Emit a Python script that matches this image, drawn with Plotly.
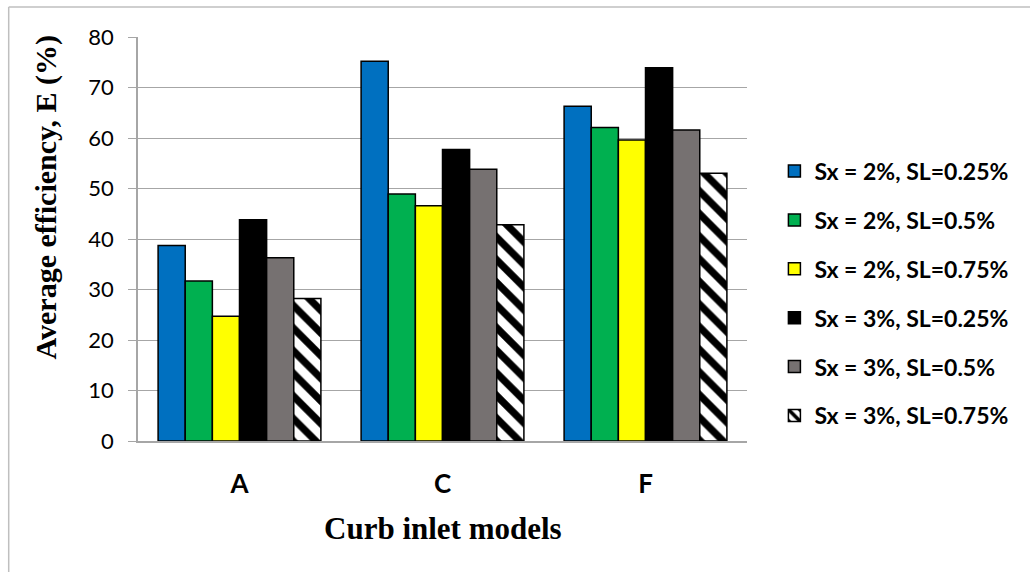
import plotly.graph_objects as go

# Curb inlet models and the average efficiency (%) for each Sx / SL combination
models = ["A", "C", "F"]
series_names = [
    "Sx = 2%, SL=0.25%",
    "Sx = 2%, SL=0.5%",
    "Sx = 2%, SL=0.75%",
    "Sx = 3%, SL=0.25%",
    "Sx = 3%, SL=0.5%",
    "Sx = 3%, SL=0.75%",
]
sx2_sl025 = [38.7, 75.2, 66.3]
sx2_sl05 = [31.7, 48.9, 62.1]
sx2_sl075 = [24.7, 46.6, 59.6]
sx3_sl025 = [43.8, 57.7, 73.9]
sx3_sl05 = [36.3, 53.8, 61.6]
sx3_sl075 = [28.2, 42.8, 53.0]
y_ticks = [0, 10, 20, 30, 40, 50, 60, 70, 80]

series_values = [sx2_sl025, sx2_sl05, sx2_sl075, sx3_sl025, sx3_sl05, sx3_sl075]
fills = ["#0070C0", "#00B050", "#FFFF00", "#000000", "#767171", "#FFFFFF"]

SANS = "Lato, 'Open Sans', sans-serif"
SERIF = "'Liberation Serif', 'Times New Roman', serif"

fig = go.Figure()
for i, (name, vals, col) in enumerate(zip(series_names, series_values, fills)):
    marker = dict(color=col, line=dict(color="#000000", width=1.5))
    if i == 5:
        marker["pattern"] = dict(shape="\\", fgcolor="#000000", bgcolor="#FFFFFF",
                                 size=16, solidity=0.45, fillmode="replace")
    fig.add_trace(go.Bar(x=models, y=vals, name=name, marker=marker,
                         legendgroup=f"g{i}"))

# outer chart frame (left and top edges)
frame = dict(type="line", xref="paper", yref="paper",
             line=dict(color="#BFBFBF", width=1.5), layer="below")
fig.add_shape(**frame, x0=-0.2123, y0=1.074, x1=1.6, y1=1.074)
fig.add_shape(**frame, x0=-0.2123, y0=1.074, x1=-0.2123, y1=-0.4)

fig.add_annotation(text="<b>Average efficiency, E (%)</b>", textangle=-90,
                   xref="paper", yref="paper", x=-0.151, y=0.603,
                   xanchor="center", yanchor="middle",
                   showarrow=False, font=dict(family=SERIF, size=30, color="#000000"))
fig.add_annotation(text="<b>Curb inlet models</b>",
                   xref="paper", yref="paper", x=0.5, y=-0.217,
                   xanchor="center", yanchor="middle",
                   showarrow=False, font=dict(family=SERIF, size=31, color="#000000"))

fig.update_layout(
    width=1030, height=572,
    margin=dict(l=137.5, r=282.5, t=37.3, b=131.3, pad=0),
    paper_bgcolor="#FFFFFF", plot_bgcolor="#FFFFFF",
    barmode="group", bargap=0.198, bargroupgap=0,
    showlegend=True,
    legend=dict(x=1.045, y=0.365, xanchor="left", yanchor="middle",
                font=dict(family=SANS, size=23, color="#000000", weight="bold"),
                tracegroupgap=16, traceorder="grouped", itemwidth=30,
                bgcolor="rgba(0,0,0,0)"),
    xaxis=dict(showgrid=False, showline=True, linecolor="#A6A6A6", linewidth=1.5,
               ticks="", tickfont=dict(family=SANS, size=26, color="#000000", weight="bold"),
               ticklabelstandoff=19),
    yaxis=dict(range=[0, 80], tickvals=y_ticks, showgrid=True, gridcolor="#A6A6A6",
               gridwidth=1.2, zeroline=False, showline=True, linecolor="#A6A6A6",
               linewidth=1.5, ticks="outside", ticklen=8, tickcolor="#A6A6A6",
               tickwidth=1.2, tickfont=dict(family=SANS, size=22, color="#000000"),
               ticklabelstandoff=10),
)

fig.write_html("out.html")
